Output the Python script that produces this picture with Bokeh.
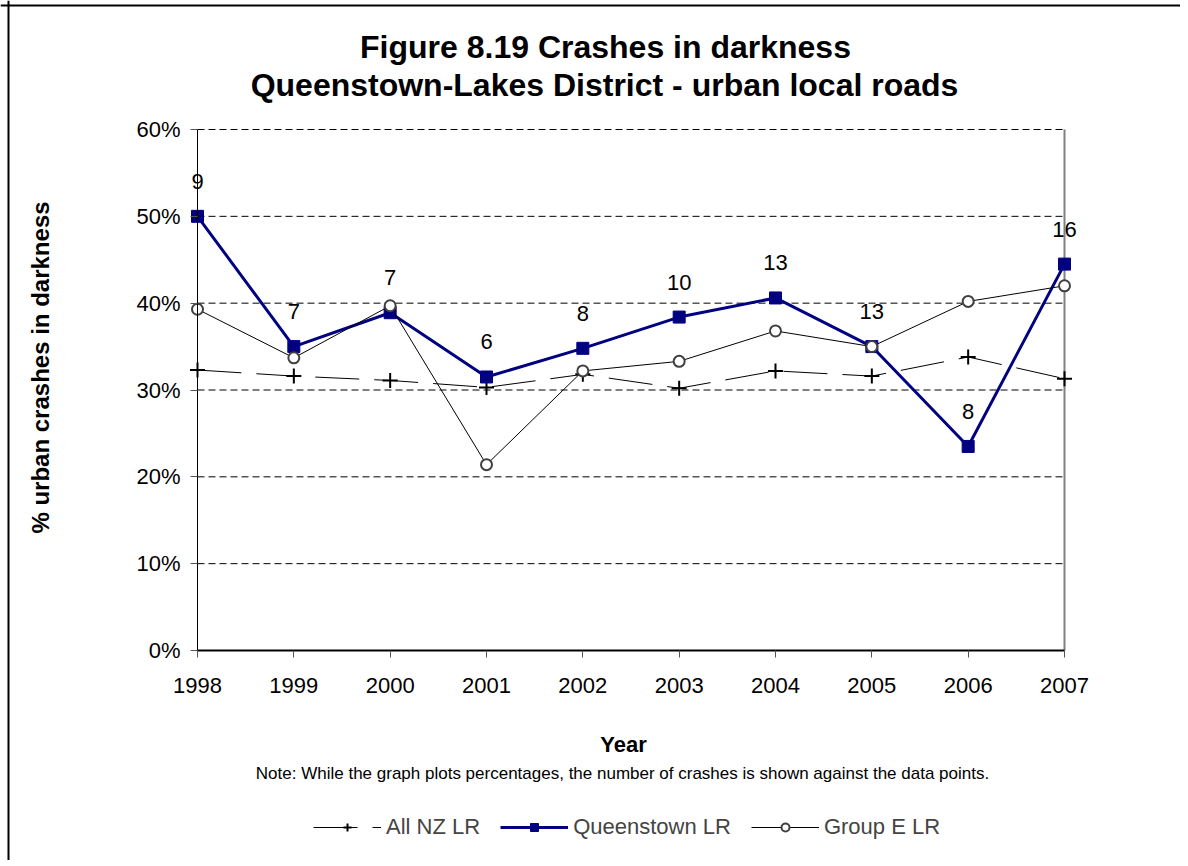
from bokeh.plotting import figure
from bokeh.models import (Range1d, FixedTicker, PrintfTickFormatter, Label, LabelSet,
                          ColumnDataSource, Legend, LegendItem, Span)
from bokeh.core.properties import value
from bokeh.embed import file_html
from bokeh.resources import INLINE
import math

# ---- data ----
years = [1998, 1999, 2000, 2001, 2002, 2003, 2004, 2005, 2006, 2007]
queenstown_lr = [50.0, 35.0, 38.9, 31.5, 34.8, 38.4, 40.6, 35.0, 23.5, 44.5]
group_e_lr = [39.3, 33.7, 39.7, 21.4, 32.2, 33.3, 36.8, 35.0, 40.2, 42.0]
all_nz_lr = [32.3, 31.6, 31.1, 30.3, 31.8, 30.2, 32.2, 31.6, 33.8, 31.3]
crash_counts = [9, 7, 7, 6, 8, 10, 13, 13, 8, 16]
y_ticks = [0, 10, 20, 30, 40, 50, 60]

title_lines = ["Figure 8.19 Crashes in darkness",
               "Queenstown-Lakes District - urban local roads"]
x_title = "Year"
y_title = "% urban crashes in darkness"
note = "Note: While the graph plots percentages, the number of crashes is shown against the data points."

FONT = "Liberation Sans"

# ---- layout (pixels) ----
W, H = 1180, 860
PL, PR, PT, PB = 197, 1064, 129, 650          # plot area edges on the canvas
x0, x1 = years[0], years[-1]
y0, y1 = y_ticks[0], y_ticks[-1]
xs = (PR - PL) / (x1 - x0)
ys = (PB - PT) / (y1 - y0)

p = figure(width=W, height=H, output_backend="svg", toolbar_location=None,
           x_range=Range1d(x0 - PL / xs, x1 + (W - PR) / xs),
           y_range=Range1d(y0 - (H - PB) / ys, y1 + PT / ys),
           min_border=0, title=None)
p.outline_line_color = None
p.background_fill_color = "white"
p.border_fill_color = "white"

# axes placed at the data edges
p.xaxis.fixed_location = y0
p.yaxis.fixed_location = x0
p.xaxis.bounds = (x0, x1)
p.yaxis.bounds = (y0, y1)
p.xaxis.ticker = FixedTicker(ticks=years)
p.yaxis.ticker = FixedTicker(ticks=y_ticks)
p.yaxis.formatter = PrintfTickFormatter(format="%d%%")
for ax in (p.xaxis, p.yaxis):
    ax.major_label_text_font = FONT
    ax.major_label_text_font_size = "22px"
    ax.major_label_text_color = "black"
    ax.minor_tick_line_color = None
    ax.major_tick_in = 0
    ax.major_tick_out = 7
    ax.axis_line_color = "black"
    ax.major_tick_line_color = "#555555"
p.xaxis.axis_line_width = 2
p.yaxis.axis_line_width = 1
p.xaxis.major_label_standoff = 20
p.yaxis.major_label_standoff = 10

p.xgrid.grid_line_color = None
p.ygrid.grid_line_color = None

# dashed gridlines across the plot area
p.segment(x0=[x0] * (len(y_ticks) - 1), x1=[x1] * (len(y_ticks) - 1),
          y0=y_ticks[1:], y1=y_ticks[1:], line_color="black", line_width=1, line_dash="7 4")
# right border of plot area
p.segment(x0=[x1], x1=[x1], y0=[y0], y1=[y1], line_color="#808080", line_width=2)

src = ColumnDataSource(dict(x=years, q=queenstown_lr, g=group_e_lr, a=all_nz_lr,
                            lab=[str(c) for c in crash_counts]))

# All NZ
r_a_line = p.line("x", "a", source=src, line_color="black", line_width=1, line_dash="44 15")
r_a_mark = p.scatter("x", "a", source=src, marker="cross", size=15, line_color="black", line_width=2)
# Queenstown
r_q_line = p.line("x", "q", source=src, line_color="#000080", line_width=3)
r_q_mark = p.scatter("x", "q", source=src, marker="square", size=12,
                     fill_color="#000080", line_color="#000080")
# Group E
r_g_line = p.line("x", "g", source=src, line_color="black", line_width=1)
r_g_mark = p.scatter("x", "g", source=src, marker="circle", size=11,
                     fill_color="white", line_color="#404040", line_width=2)

# data labels
p.add_layout(LabelSet(x="x", y="q", text="lab", source=src, y_offset=35,
                      text_align="center", text_baseline="middle",
                      text_font=value(FONT), text_font_size=value("22px"), text_color="black"))

# texts (screen units, canvas bottom-left origin)
def lab(text, x, y, size, bold=False, angle=0):
    p.add_layout(Label(x=x, y=H - y, x_units="screen", y_units="screen", text=text,
                       text_font=FONT, text_font_size=size,
                       text_font_style="bold" if bold else "normal",
                       text_align="center", text_baseline="middle", angle=angle,
                       text_color="black"))

lab(title_lines[0], 605, 46, "32px", bold=True)
lab(title_lines[1], 604, 84, "32px", bold=True)
lab(x_title, 623, 744, "22px", bold=True)
lab(note, 622, 773, "17px")
lab(y_title, 40, 367, "24px", bold=True, angle=math.pi / 2)

# outer chart frame (left and top edges; the rest lies beyond the window)
p.add_layout(Span(location=8, location_units="screen", dimension="height",
                  line_color="black", line_width=2))
p.add_layout(Span(location=H - 5, location_units="screen", dimension="width",
                  line_color="black", line_width=2))

legend = Legend(items=[LegendItem(label="All NZ LR", renderers=[r_a_line, r_a_mark]),
                       LegendItem(label="Queenstown LR", renderers=[r_q_line, r_q_mark]),
                       LegendItem(label="Group E LR", renderers=[r_g_line, r_g_mark])],
                orientation="horizontal", location=(313, H - 827 - 13),
                glyph_width=68, glyph_height=20, label_standoff=5, spacing=20,
                padding=0, margin=0, border_line_color=None, background_fill_alpha=0,
                label_text_font=FONT, label_text_font_size="22px")
p.add_layout(legend)

open("out.html", "w").write(file_html(p, INLINE))
